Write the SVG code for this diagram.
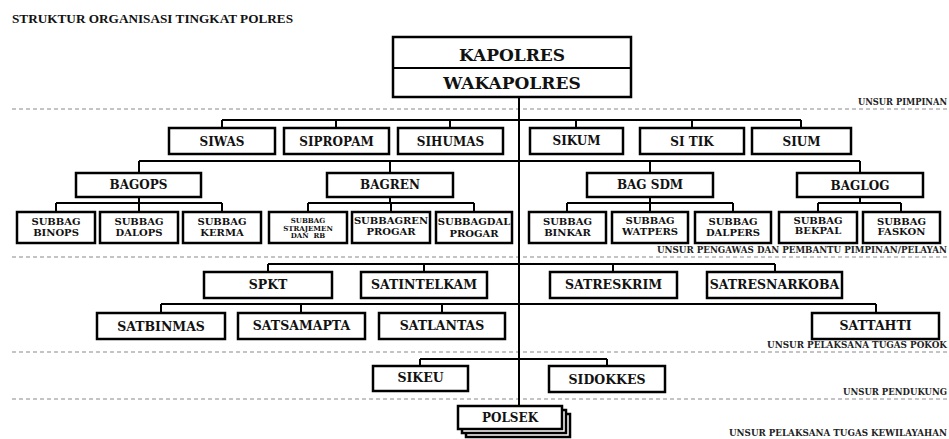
<svg xmlns="http://www.w3.org/2000/svg" width="949" height="439" viewBox="0 0 949 439">
<style>
.box{fill:#fff;stroke:#000;stroke-width:2.5}
.ln{stroke:#000;stroke-width:2;fill:none}
.dash{stroke:#8a8a8a;stroke-width:1.2;stroke-dasharray:4 3;fill:none}
.t{font-family:"DejaVu Serif",serif;font-weight:bold;text-anchor:middle;fill:#111}
.big{font-size:17px}
.m{font-size:12px}
.r{font-size:12.5px}
.s{font-size:10px}
.xs{font-size:7px}
.u{font-family:"DejaVu Serif",serif;font-weight:bold;font-size:8.5px;text-anchor:end;fill:#222}
.title{font-family:"Liberation Serif",serif;font-weight:bold;font-size:13.5px;fill:#111}
</style>
<rect width="949" height="439" fill="#fff"/>
<text class="title" x="12" y="23" textLength="281" lengthAdjust="spacingAndGlyphs">STRUKTUR ORGANISASI TINGKAT POLRES</text>
<g id="dividers">
<line class="dash" x1="12" y1="109" x2="949" y2="109"/>
<line class="dash" x1="12" y1="257" x2="949" y2="257"/>
<line class="dash" x1="12" y1="352" x2="949" y2="352"/>
<line class="dash" x1="12" y1="399" x2="949" y2="399"/>
<text class="u" x="947" y="105" textLength="89" lengthAdjust="spacingAndGlyphs">UNSUR PIMPINAN</text>
<text class="u" x="947" y="253" textLength="290" lengthAdjust="spacingAndGlyphs">UNSUR PENGAWAS DAN PEMBANTU PIMPINAN/PELAYAN</text>
<text class="u" x="947" y="348" textLength="180" lengthAdjust="spacingAndGlyphs">UNSUR PELAKSANA TUGAS POKOK</text>
<text class="u" x="947" y="395" textLength="104" lengthAdjust="spacingAndGlyphs">UNSUR PENDUKUNG</text>
<text class="u" x="947" y="436" textLength="218" lengthAdjust="spacingAndGlyphs">UNSUR PELAKSANA TUGAS KEWILAYAHAN</text>
</g>
<g id="connectors">
<path class="ln" d="M519 97V406"/>
<path class="ln" d="M222 120H801M222 120V128M336 120V128M450 120V128M576 120V128M692 120V128M801 120V128"/>
<path class="ln" d="M139 161H860M139 161V173M390 161V173M650 161V173M860 161V173"/>
<path class="ln" d="M139 197V203M56 203H222M56 203V212M139 203V212M222 203V212"/>
<path class="ln" d="M390 197V203M308 203H474M308 203V212M391 203V212M474 203V212"/>
<path class="ln" d="M650 197V203M567 203H733M567 203V212M650 203V212M733 203V212"/>
<path class="ln" d="M860 197V203M818 203H901M818 203V212M901 203V212"/>
<path class="ln" d="M268 264H775M268 264V272M424 264V272M613 264V272M775 264V272"/>
<path class="ln" d="M161 304H876M161 304V313M301 304V313M442 304V313M876 304V313"/>
<path class="ln" d="M420 359H607M420 359V366M607 359V366"/>
</g>
<g id="kapolres">
<rect class="box" x="393" y="37" width="238" height="60"/>
<line class="ln" x1="393" y1="68" x2="631" y2="68" stroke-width="2.5"/>
<text class="t big" x="512" y="61">KAPOLRES</text>
<text class="t big" x="512" y="89">WAKAPOLRES</text>
</g>
<g id="siwas"><rect class="box" x="169" y="128" width="106" height="26"/><text class="t m" x="222" y="146">SIWAS</text></g>
<g id="sipropam"><rect class="box" x="284" y="128" width="105" height="26"/><text class="t m" x="336.5" y="146">SIPROPAM</text></g>
<g id="sihumas"><rect class="box" x="398" y="128" width="105" height="26"/><text class="t m" x="450.5" y="146">SIHUMAS</text></g>
<g id="sikum"><rect class="box" x="530" y="128" width="93" height="26"/><text class="t m" x="576.5" y="145">SIKUM</text></g>
<g id="sitik"><rect class="box" x="640" y="128" width="104" height="26"/><text class="t m" x="692" y="146">SI TIK</text></g>
<g id="sium"><rect class="box" x="752" y="128" width="99" height="26"/><text class="t m" x="801.5" y="146">SIUM</text></g>
<g id="bagops"><rect class="box" x="76" y="173" width="125" height="24"/><text class="t m" x="138.5" y="189">BAGOPS</text></g>
<g id="bagren"><rect class="box" x="327" y="173" width="126" height="24"/><text class="t m" x="390" y="189">BAGREN</text></g>
<g id="bagsdm"><rect class="box" x="587" y="173" width="126" height="24"/><text class="t m" x="650" y="189">BAG SDM</text></g>
<g id="baglog"><rect class="box" x="797" y="173" width="126" height="24"/><text class="t m" x="860" y="190">BAGLOG</text></g>
<g id="binops"><rect class="box" x="17" y="212" width="78" height="31"/><text class="t s" x="56" y="225">SUBBAG</text><text class="t s" x="56" y="236">BINOPS</text></g>
<g id="dalops"><rect class="box" x="100" y="212" width="78" height="31"/><text class="t s" x="139" y="225">SUBBAG</text><text class="t s" x="139" y="236">DALOPS</text></g>
<g id="kerma"><rect class="box" x="183" y="212" width="78" height="31"/><text class="t s" x="222" y="225">SUBBAG</text><text class="t s" x="222" y="236">KERMA</text></g>
<g id="strajemen"><rect class="box" x="269" y="212" width="78" height="31"/><text class="t xs" x="308" y="223">SUBBAG</text><text class="t xs" x="308" y="230.5">STRAJEMEN</text><text class="t xs" x="308" y="238" xml:space="preserve">DAN  RB</text></g>
<g id="subbagren"><rect class="box" x="352" y="212" width="78" height="31"/><text class="t s" x="391" y="224">SUBBAGREN</text><text class="t s" x="391" y="235">PROGAR</text></g>
<g id="subbagdal"><rect class="box" x="436" y="212" width="76" height="31"/><text class="t s" x="474" y="225">SUBBAGDAL</text><text class="t s" x="474" y="237">PROGAR</text></g>
<g id="binkar"><rect class="box" x="529" y="212" width="77" height="31"/><text class="t s" x="567.5" y="225">SUBBAG</text><text class="t s" x="567.5" y="236">BINKAR</text></g>
<g id="watpers"><rect class="box" x="612" y="212" width="76" height="31"/><text class="t s" x="650" y="224">SUBBAG</text><text class="t s" x="650" y="235">WATPERS</text></g>
<g id="dalpers"><rect class="box" x="695" y="212" width="76" height="31"/><text class="t s" x="733" y="225">SUBBAG</text><text class="t s" x="733" y="236">DALPERS</text></g>
<g id="bekpal"><rect class="box" x="779" y="212" width="78" height="31"/><text class="t s" x="818" y="224">SUBBAG</text><text class="t s" x="818" y="234">BEKPAL</text></g>
<g id="faskon"><rect class="box" x="863" y="212" width="77" height="31"/><text class="t s" x="901.5" y="225">SUBBAG</text><text class="t s" x="901.5" y="235">FASKON</text></g>
<g id="spkt"><rect class="box" x="204" y="272" width="128" height="26"/><text class="t r" x="268" y="289">SPKT</text></g>
<g id="satintelkam"><rect class="box" x="361" y="272" width="126" height="26"/><text class="t r" x="424" y="289">SATINTELKAM</text></g>
<g id="satreskrim"><rect class="box" x="550" y="272" width="127" height="26"/><text class="t r" x="613.5" y="289">SATRESKRIM</text></g>
<g id="satresnarkoba"><rect class="box" x="707" y="272" width="135" height="26"/><text class="t r" x="774.5" y="289">SATRESNARKOBA</text></g>
<g id="satbinmas"><rect class="box" x="97" y="313" width="128" height="26"/><text class="t r" x="161" y="331">SATBINMAS</text></g>
<g id="satsamapta"><rect class="box" x="238" y="313" width="127" height="26"/><text class="t r" x="301.5" y="330">SATSAMAPTA</text></g>
<g id="satlantas"><rect class="box" x="379" y="313" width="126" height="26"/><text class="t r" x="442" y="330">SATLANTAS</text></g>
<g id="sattahti"><rect class="box" x="812" y="313" width="127" height="26"/><text class="t r" x="875.5" y="330">SATTAHTI</text></g>
<g id="sikeu"><rect class="box" x="373" y="366" width="95" height="25"/><text class="t r" x="420.5" y="382">SIKEU</text></g>
<g id="sidokkes"><rect class="box" x="549" y="366" width="116" height="26"/><text class="t r" x="607" y="384">SIDOKKES</text></g>
<g id="polsek">
<rect class="box" x="466" y="414" width="104" height="23" stroke-width="2"/>
<rect class="box" x="462" y="410" width="104" height="23" stroke-width="2"/>
<rect class="box" x="458" y="406" width="104" height="23"/>
<text class="t m" x="510" y="422">POLSEK</text>
</g>
</svg>
